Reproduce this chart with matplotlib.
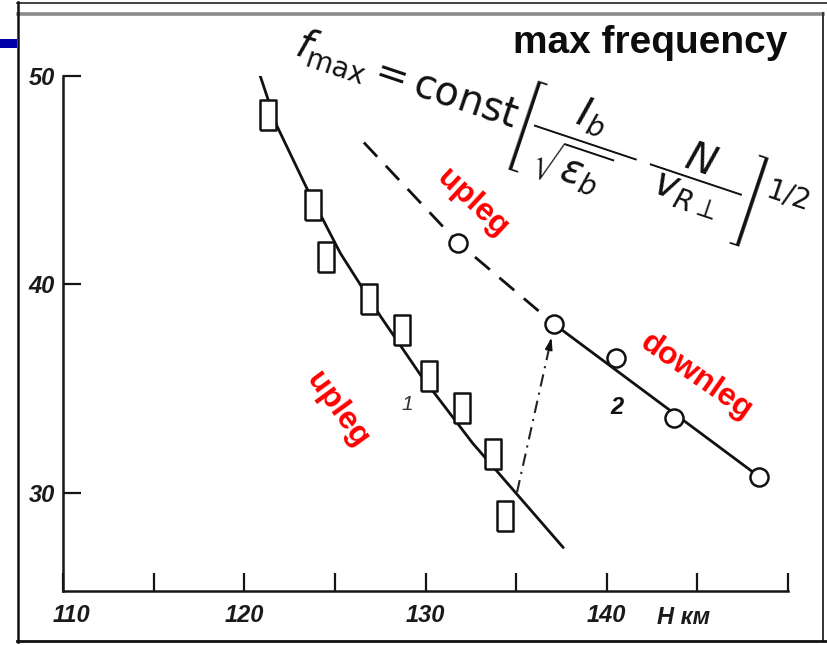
import matplotlib
matplotlib.use("Agg")
import matplotlib.pyplot as plt
import matplotlib.transforms as mtransforms
from matplotlib import font_manager as fm
from matplotlib.lines import Line2D
from matplotlib.patches import Rectangle

# Curve 1: measured maximum frequency (squares) and the drawn trend through them
sq_h = [121.3, 123.8, 124.5, 126.9, 128.7, 130.2, 132.0, 133.7, 134.4]
sq_f = [48.1, 43.8, 41.3, 39.3, 37.8, 35.6, 34.1, 31.9, 28.9]
trend1_h = [120.8, 121.8, 123.4, 125.3, 127.5, 129.7, 132.6, 134.8, 137.6]
trend1_f = [50.2, 47.6, 44.7, 41.5, 38.5, 35.7, 32.4, 30.2, 27.4]

# Curve 2: circles, dashed on the upleg and solid on the downleg
circ_h = [131.8, 137.1, 140.5, 143.7, 148.4]
circ_f = [42.0, 38.1, 36.5, 33.6, 30.8]
up2_h = [126.6, 131.8, 137.1]
up2_f = [46.8, 42.0, 38.1]
down2_h = [137.1, 148.4]
down2_f = [38.1, 30.8]

# Dash-dot jump from curve 1 to curve 2 (start, tip)
link_h = [135.05, 136.95]
link_f = [30.05, 37.45]

x_ticks = [110, 115, 120, 125, 130, 135, 140, 145, 150]
x_labels = ["110", "", "120", "", "130", "", "140", "", ""]
y_ticks = [30, 40, 50]
y_labels = ["30", "40", "50"]

W, H = 827, 645
names = {f.name for f in fm.fontManager.ttflist}
narrow = "Liberation Sans Narrow" if "Liberation Sans Narrow" in names else "Liberation Sans"


def fx(px):
    return px / W


def fy(py):
    return 1 - py / H


fig = plt.figure(figsize=(W / 100, H / 100), dpi=100)
fig.patch.set_facecolor("white")

# slide frame
fig.add_artist(Rectangle((0, fy(48)), fx(17), 9 / H, color="#0000a8", lw=0))
fig.add_artist(Line2D([fx(17), 1], [fy(2.5), fy(2.5)], color="#222222", lw=1.2))
fig.add_artist(Line2D([fx(18), fx(823)], [fy(13.5), fy(13.5)], color="#8a8a8a", lw=2.6))
fig.add_artist(Line2D([fx(17.5), fx(17.5)], [fy(2), fy(642)], color="#111111", lw=1.8))
fig.add_artist(Line2D([fx(823), fx(823)], [fy(13), fy(641)], color="#333333", lw=1.4))
fig.add_artist(Line2D([fx(17), 1], [fy(640.5), fy(640.5)], color="#111111", lw=2.0))

ax = fig.add_axes([fx(63), 54 / H, 725 / W, (591 - 75.7) / H])
ax.set_facecolor("none")
ax.set_xlim(110, 150)
ax.set_ylim(25.32, 50)
for s in ("top", "right"):
    ax.spines[s].set_visible(False)
for s in ("left", "bottom"):
    ax.spines[s].set_linewidth(1.8)
    ax.spines[s].set_color("#151515")

ax.set_xticks(x_ticks)
ax.set_xticklabels(x_labels)
ax.set_yticks(y_ticks)
ax.set_yticklabels(y_labels)
ax.tick_params(axis="both", direction="in", length=13, width=1.6, color="#151515")
ax.tick_params(axis="x", pad=9)
ax.tick_params(axis="y", pad=6)
for lab in ax.get_xticklabels() + ax.get_yticklabels():
    lab.set_fontfamily([narrow, "DejaVu Sans"])
    lab.set_fontstyle("italic")
    lab.set_fontweight("bold")
    lab.set_fontsize(17)
    lab.set_color("#1a1a1a")
# the corner label sits a little right of the axis origin
first = ax.xaxis.get_major_ticks()[0].label1
first.set_transform(first.get_transform()
                    + mtransforms.ScaledTranslation(8 / 100, 0, fig.dpi_scale_trans))

tall_box = [(-0.5, -1), (0.5, -1), (0.5, 1), (-0.5, 1), (-0.5, -1)]

ax.plot(trend1_h, trend1_f, color="#111111", lw=2.0, zorder=2, solid_capstyle="round")
ax.plot(up2_h, up2_f, color="#111111", lw=2.0, dashes=(7, 4.5), zorder=2)
ax.plot(down2_h, down2_f, color="#111111", lw=2.0, zorder=2)
ax.plot(link_h, link_f, color="#222222", lw=1.5, dashes=(6, 3, 1, 3), zorder=2)
head_from = (link_h[1] - 0.25 * (link_h[1] - link_h[0]) / 4,
             link_f[1] - 0.25 * (link_f[1] - link_f[0]) / 4)
ax.annotate("", xy=(link_h[1], link_f[1]), xytext=head_from,
            arrowprops=dict(arrowstyle="-|>,head_length=0.7,head_width=0.22",
                            color="#111111", lw=1.2, shrinkA=0, shrinkB=0), zorder=3)

ax.plot(sq_h, sq_f, linestyle="none", marker=tall_box, markersize=22,
        markerfacecolor="white", markeredgecolor="#111111", markeredgewidth=1.8, zorder=4)
ax.plot(circ_h, circ_f, linestyle="none", marker="o", markersize=13,
        markerfacecolor="white", markeredgecolor="#111111", markeredgewidth=1.8, zorder=4)

# curve numbers
fig.text(fx(407), fy(405), "1", fontsize=15, fontstyle="italic", color="#333333",
         ha="center", va="center", family=[narrow, "DejaVu Sans"])
fig.text(fx(617), fy(407), "2", fontsize=17, fontstyle="italic", fontweight="bold",
         color="#111111", ha="center", va="center", family=[narrow, "DejaVu Sans"])

# axis name
fig.text(fx(657), fy(617), "H км", fontsize=17, fontstyle="italic", fontweight="bold",
         color="#1a1a1a", ha="left", va="center", family=[narrow, "DejaVu Sans"])

# title and formula
fig.text(fx(650), fy(43), "max frequency", fontsize=28, fontweight="bold",
         color="#0d0d0d", ha="center", va="center", family="Liberation Sans")
fig.text(fx(292), fy(56),
         r"$f_{\rm max} = \mathrm{const}\left[\dfrac{\;I_b\;}{\;\sqrt{\varepsilon_b}\;\;}\;"
         r"\dfrac{\;N\;}{\;v_{R\perp}\;}\right]^{1/2}$",
         fontsize=28.5, rotation=-18.5, rotation_mode="anchor", ha="left", va="baseline",
         color="#111111")

# leg annotations
red = dict(color="#ff0000", fontsize=23, fontweight="bold", family="Liberation Sans",
           ha="center", va="center", rotation_mode="anchor")
fig.text(fx(472), fy(203), "upleg", rotation=-43, **red)
fig.text(fx(337), fy(410), "upleg", rotation=-54, **red)
fig.text(fx(696), fy(377), "downleg", rotation=-35, **red)

fig.savefig("out.png", dpi=100, facecolor="white")
